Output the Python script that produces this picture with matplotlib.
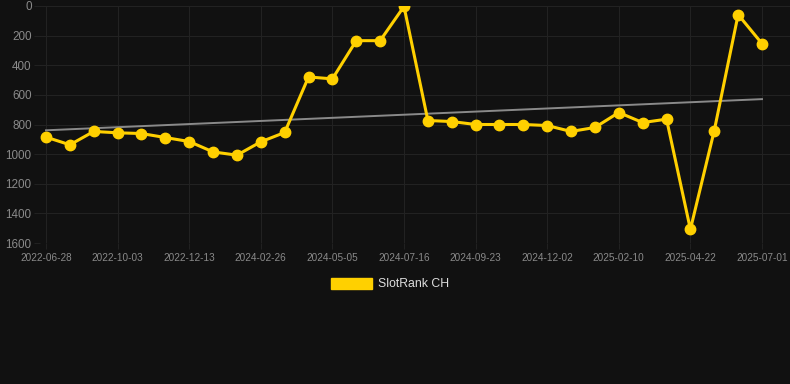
import numpy as np
import matplotlib
matplotlib.use("Agg")
import matplotlib.pyplot as plt
from matplotlib.patches import Patch

# valores (rank, menor = mejor)
rank_ch = [885, 937, 847, 856, 861, 888, 915, 985, 1007, 917, 854,
           479, 492, 234, 234, 3, 773, 780, 800, 800, 800, 807,
           847, 820, 719, 787, 764, 1508, 841, 58, 254]
tick_labels = ["2022-06-28", "2022-10-03", "2022-12-13", "2024-02-26",
               "2024-05-05", "2024-07-16", "2024-09-23", "2024-12-02",
               "2025-02-10", "2025-04-22", "2025-07-01"]
y_ticks = [0, 200, 400, 600, 800, 1000, 1200, 1400, 1600]

BG = "#111111"
YELLOW = "#FFD000"
plt.rcParams['font.family'] = ['Liberation Sans', 'DejaVu Sans']

x = np.arange(len(rank_ch))
pend, corte = np.polyfit(x, rank_ch, 1)
tendencia = pend * x + corte

fig = plt.figure(figsize=(7.9, 3.84), dpi=100, facecolor=BG)
ax = fig.add_axes([40 / 790, 1 - 243 / 384, 750 / 790, 237 / 384], facecolor=BG)

ax.plot(x, tendencia, color="#8a8a8a", lw=1.4, zorder=2)
ax.plot(x, rank_ch, color=YELLOW, lw=2.2, marker="o", ms=7.5, zorder=3)

px = 23.87
ax.set_xlim(-6 / px, 30 + 28 / px)
ax.set_ylim(1600, 0)
ax.set_yticks(y_ticks)
ax.set_xticks(x[::3])
ax.set_xticklabels(tick_labels)
ax.tick_params(axis="x", labelsize=7.2, colors="#8a8a8a", length=4, width=0.6)
ax.tick_params(axis="y", labelsize=8.4, colors="#8a8a8a", length=4, width=0.6, pad=2)
ax.tick_params(color="#252525")
ax.grid(True, color="#222222", lw=0.8)
for s in ax.spines.values():
    s.set_visible(False)
for lab in ax.get_yticklabels():
    lab.set_clip_on(False)

fig.legend(handles=[Patch(facecolor=YELLOW, edgecolor=YELLOW, label="SlotRank CH")],
           loc="center", bbox_to_anchor=(390 / 790, 1 - 284 / 384), frameon=False,
           handlelength=3.4, handleheight=1.0, handletextpad=0.5,
           fontsize=8.8, labelcolor="#dddddd")

fig.savefig("out.png", dpi=100, facecolor=BG)
